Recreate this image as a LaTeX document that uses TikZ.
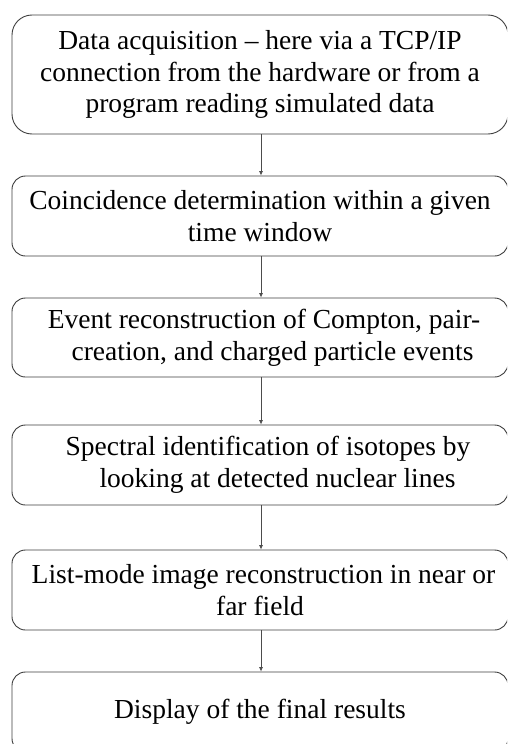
\documentclass[tikz,border=0pt]{standalone}
\usepackage{fontspec}
\setmainfont{Liberation Serif}
\usetikzlibrary{arrows.meta}
\begin{document}
\begin{tikzpicture}[x=1pt,y=-1pt,
  stepbox/.style={draw=black!75, line width=0.9pt, rounded corners=13.5pt,
    minimum width=496pt, inner sep=0pt, align=center,
    font=\fontsize{27.5}{31.6}\selectfont},
  arr/.style={draw=black!70, line width=0.7pt, -{Latex[length=4.5pt,width=4pt]}}]
\useasboundingbox (0,0) rectangle (507,744);
\clip (0,0) rectangle (507,744);
\fill[white] (0,0) rectangle (507,744);
\node[stepbox, minimum height=119pt, rounded corners=20pt] (b1) at (260,74.5)
  {Data acquisition – here via a TCP/IP\\connection from the hardware or from a\\program reading simulated data};
\node[stepbox, minimum height=80pt] (b2) at (260,216)
  {Coincidence determination within a given\\time window};
\node[stepbox, minimum height=79pt] (b3) at (260,337.5)
  {\hspace*{8pt}Event reconstruction of Compton, pair-\\\hspace*{25pt}creation, and charged particle events};
\node[stepbox, minimum height=80pt] (b4) at (260,465)
  {\hspace*{16pt}Spectral identification of isotopes by\\\hspace*{35pt}looking at detected nuclear lines};
\node[stepbox, minimum height=80pt] (b5) at (260,590)
  {\hspace*{7pt}List-mode image reconstruction in near or\\far field};
\node[stepbox, minimum height=80pt] (b6) at (260,712)
  {Display of the final results};
\draw[arr] ([xshift=1pt]b1.south) -- ([xshift=1pt]b2.north);
\draw[arr] ([xshift=1pt]b2.south) -- ([xshift=1pt]b3.north);
\draw[arr] ([xshift=1pt]b3.south) -- ([xshift=1pt]b4.north);
\draw[arr] ([xshift=1pt]b4.south) -- ([xshift=1pt]b5.north);
\draw[arr] ([xshift=1pt]b5.south) -- ([xshift=1pt]b6.north);
\end{tikzpicture}
\end{document}
